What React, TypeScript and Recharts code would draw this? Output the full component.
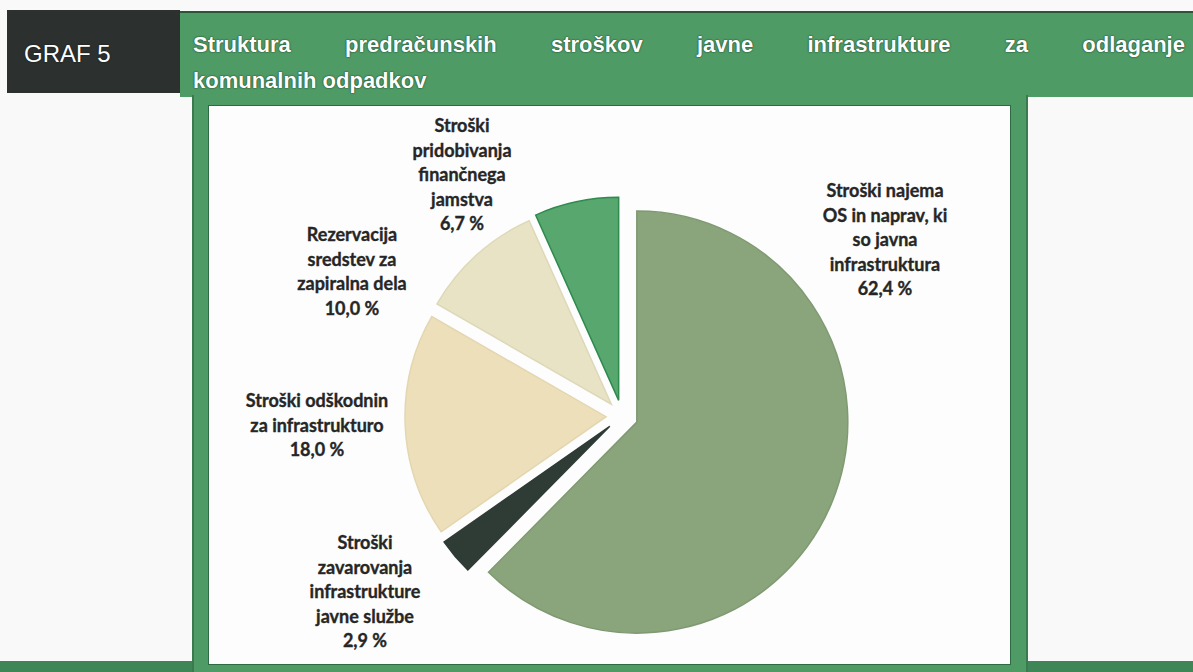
import React from 'react';
import { PieChart, Pie, Sector } from 'recharts';

// ---- data ----
const categories = [
  'Stroški najema OS in naprav, ki so javna infrastruktura',
  'Stroški zavarovanja infrastrukture javne službe',
  'Stroški odškodnin za infrastrukturo',
  'Rezervacija sredstev za zapiralna dela',
  'Stroški pridobivanja finančnega jamstva',
];
const shares = [62.4, 2.9, 18.0, 10.0, 6.7];
const valueLabels = ['62,4 %', '2,9 %', '18,0 %', '10,0 %', '6,7 %'];
const labelLines = [
  ['Stroški najema', 'OS in naprav, ki', 'so javna', 'infrastruktura'],
  ['Stroški', 'zavarovanja', 'infrastrukture', 'javne službe'],
  ['Stroški odškodnin', 'za infrastrukturo'],
  ['Rezervacija', 'sredstev za', 'zapiralna dela'],
  ['Stroški', 'pridobivanja', 'finančnega', 'jamstva'],
];
const titleLine1 = ['Struktura', 'predračunskih', 'stroškov', 'javne', 'infrastrukture', 'za', 'odlaganje'];
const titleLine2 = 'komunalnih odpadkov';
const graphTag = 'GRAF 5';

// ---- styles ----
const sliceColors = ['#8aa47c', '#2f3b35', '#ecdfba', '#e8e3c5', '#58a76f'];
const sliceStrokes = ['#7f9a72', '#2f3b35', '#e3d6b0', '#ddd8b8', '#2f8a4e'];
const sliceRadius = [211, 202, 201, 201, 203];
const EXPLODE = 16;
// label block placement relative to the pie centre (dx = block centre x, dy = first line centre y)
const labelPlacement = [
  { dx: 263, dy: -226 },
  { dx: -257, dy: 126 },
  { dx: -305, dy: -16 },
  { dx: -270, dy: -182 },
  { dx: -160, dy: -291 },
];
const LINE_H = 24.5;

const data = categories.map((name, i) => ({ name, value: shares[i] }));

const renderSlice = (props: any) => {
  const { cx, cy, startAngle, endAngle, index } = props;
  const mid = (startAngle + endAngle) / 2;
  const rad = (-mid * Math.PI) / 180;
  const ox = cx + EXPLODE * Math.cos(rad);
  const oy = cy + EXPLODE * Math.sin(rad);
  const lines = [...labelLines[index], valueLabels[index]];
  const pl = labelPlacement[index];
  return (
    <g key={`slice-${index}`}>
      <Sector
        cx={ox}
        cy={oy}
        innerRadius={0}
        outerRadius={sliceRadius[index]}
        startAngle={startAngle}
        endAngle={endAngle}
        fill={sliceColors[index]}
        stroke={sliceStrokes[index]}
        strokeWidth={1.5}
      />
      <text
        textAnchor="middle"
        fontFamily="Lato, 'Open Sans', sans-serif"
        fontWeight={700}
        fontSize={18}
        fill="#262626"
        stroke="#262626"
        strokeWidth={0.35}
      >
        {lines.map((l, k) => (
          <tspan key={k} x={cx + pl.dx} y={cy + pl.dy + k * LINE_H} dominantBaseline="central">
            {l}
          </tspan>
        ))}
      </text>
    </g>
  );
};

export default function App() {
  return (
    <div
      style={{
        position: 'absolute',
        left: 0,
        top: 0,
        width: 1193,
        height: 672,
        background: '#f8f9f8',
        overflow: 'hidden',
        fontFamily: "'Liberation Sans', Arial, sans-serif",
      }}
    >
      {/* bottom rule */}
      <div style={{ position: 'absolute', left: 0, top: 661, width: 1193, height: 11, background: '#3f8656' }} />
      {/* dark tag box */}
      <div
        style={{
          position: 'absolute',
          left: 7,
          top: 10,
          width: 173,
          height: 83,
          background: '#2c312f',
        }}
      />
      <div
        style={{
          position: 'absolute',
          left: 24,
          top: 40,
          fontSize: 24,
          lineHeight: '28px',
          color: '#ffffff',
          textShadow: '0 0 2px rgba(0,0,0,0.7)',
        }}
      >
        {graphTag}
      </div>
      {/* green header */}
      <div
        style={{
          position: 'absolute',
          left: 180,
          top: 11,
          width: 1013,
          height: 86,
          background: '#4f9b66',
          borderTop: '2px solid #2c5538',
          boxSizing: 'border-box',
        }}
      />
      {/* green frame */}
      <div
        style={{
          position: 'absolute',
          left: 192,
          top: 95,
          width: 836,
          height: 577,
          background: '#4f9b66',
          borderLeft: '2px solid #3a7a4e',
          borderRight: '2px solid #3a7a4e',
          boxSizing: 'border-box',
        }}
      />
      {/* title */}
      <div
        style={{
          position: 'absolute',
          left: 193,
          top: 32,
          width: 992,
          height: 25,
          display: 'flex',
          justifyContent: 'space-between',
          fontSize: 22,
          fontWeight: 700,
          lineHeight: '25px',
          color: '#ffffff',
          textShadow: '0 0 2px #1d4a2b, 0 0 1px #1d4a2b',
        }}
      >
        {titleLine1.map((w, i) => (
          <span key={i}>{w}</span>
        ))}
      </div>
      <div
        style={{
          position: 'absolute',
          left: 193,
          top: 68,
          fontSize: 22,
          fontWeight: 700,
          lineHeight: '25px',
          color: '#ffffff',
          textShadow: '0 0 2px #1d4a2b, 0 0 1px #1d4a2b',
        }}
      >
        {titleLine2}
      </div>
      {/* inner white chart panel */}
      <div
        style={{
          position: 'absolute',
          left: 208,
          top: 105,
          width: 803,
          height: 560,
          background: '#fcfdfc',
          border: '1px solid #2e6b43',
          boxSizing: 'border-box',
        }}
      >
        <PieChart width={801} height={558}>
          <Pie
            data={data}
            dataKey="value"
            nameKey="name"
            cx={408}
            cy={305}
            innerRadius={0}
            outerRadius={201}
            startAngle={90}
            endAngle={-270}
            fill="none"
            stroke="none"
            label={renderSlice}
            labelLine={false}
            isAnimationActive={false}
          />
        </PieChart>
      </div>
    </div>
  );
}
